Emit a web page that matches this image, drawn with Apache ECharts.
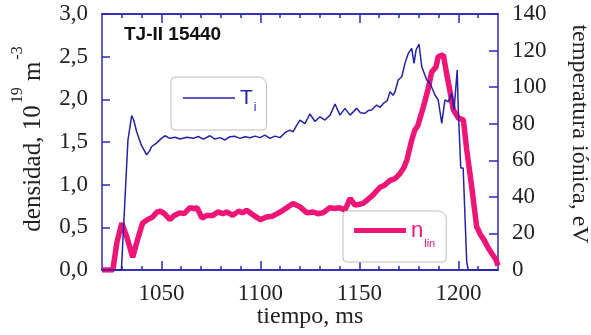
<!DOCTYPE html>
<html>
<head>
<meta charset="utf-8">
<script src="https://cdn.jsdelivr.net/npm/echarts@6/dist/echarts.min.js"></script>
<style>
  html, body { margin: 0; padding: 0; background: #fff; }
  #chart { width: 591px; height: 335px; }
</style>
</head>
<body>
<div id="chart"></div>
<script>
// ion temperature (eV), right axis
const tiTime = [1020, 1029.8, 1033.1, 1035, 1036, 1037.5, 1039, 1040, 1041.5, 1042.5, 1044, 1045, 1047.5, 1050,
  1051.8, 1054.3, 1056.9, 1059.4, 1062.8, 1066.1, 1068.6, 1071.2, 1074.5, 1077.1, 1079.6, 1082.1, 1084.6, 1087.2,
  1089.7, 1092.2, 1094.7, 1097.3, 1099.8, 1102.3, 1104.8, 1107.4, 1109.9, 1112.4, 1114.9, 1116.5, 1118, 1120,
  1122.5, 1125, 1127.6, 1130.1, 1132.6, 1135.2, 1137.7, 1140.2, 1142.7, 1145.3, 1148.6, 1150.5, 1152.8, 1154.5,
  1156.2, 1158.7, 1160.5, 1162.1, 1164, 1165.5, 1167, 1168, 1169.6, 1171.4, 1173, 1174.7, 1176.4, 1177.6, 1178.6,
  1180.1, 1181.5, 1184, 1185.7, 1188.2, 1189.8, 1191.6, 1193.2, 1194.9, 1196.6, 1197.8, 1199.4, 1199.9, 1201.2,
  1202.4, 1204.2, 1205, 1220];
const tiVal = [0, 0, 71, 84.4, 82, 75.6, 71, 68, 65, 63, 65, 67.4, 69.4, 72,
  73.4, 72.0, 72.6, 71.6, 72.6, 72.0, 73.0, 71.6, 73.4, 71.6, 72.4, 71.1, 72.9, 73.1,
  72.0, 72.9, 72.3, 73.2, 72.4, 73.8, 72.0, 73.2, 72.4, 75.1, 76.5, 75.5, 78.5, 82,
  80, 85.3, 81.2, 83.8, 82, 84.7, 90.8, 84.7, 88.4, 84.7, 88.4, 86, 85.7, 87.2,
  87.5, 90.2, 89, 91.1, 92.5, 97.5, 95.5, 97.5, 103.9, 105.7, 113, 118.5, 121.2, 113, 120.3,
  123.6, 111.2, 103.9, 102, 95.7, 93, 80.2, 93, 92, 96.6, 87.5, 109.3, 89, 55.8,
  55.8, 4.5, 0, 0];

// line density (10^19 m^-3), left axis
const nTime = [1020, 1025.5, 1027.5, 1030, 1032.5, 1035.5, 1037.5, 1040.5, 1043, 1045.5, 1047.8, 1049.5, 1051.5,
  1054.3, 1056.5, 1059.4, 1061.5, 1064.4, 1066.5, 1068, 1070.5, 1073, 1076, 1078.5, 1081, 1083, 1086, 1089, 1091,
  1093, 1096, 1098, 1100, 1103, 1106, 1108.5, 1111.4, 1114, 1116.5, 1120, 1123.5, 1126.6, 1129, 1131.6, 1135,
  1137.5, 1140, 1142.7, 1145.3, 1147.8, 1150, 1151.8, 1154, 1156.9, 1160.4, 1162.5, 1165.5, 1168, 1170.5, 1172.5,
  1174, 1176.4, 1178, 1179.5, 1182.3, 1184.8, 1186.5, 1188.7, 1189.8, 1192.4, 1194, 1195.8, 1197.4, 1200, 1202.5,
  1204.2, 1206.7, 1209.2, 1211, 1213, 1215, 1216.7, 1219, 1220];
const nVal = [0, 0, 0.32, 0.55, 0.39, 0.15, 0.32, 0.55, 0.59, 0.62, 0.68, 0.69, 0.66,
  0.59, 0.64, 0.67, 0.66, 0.73, 0.72, 0.73, 0.61, 0.64, 0.64, 0.68, 0.66, 0.68, 0.64, 0.69, 0.67,
  0.70, 0.65, 0.62, 0.59, 0.62, 0.63, 0.66, 0.70, 0.74, 0.78, 0.74, 0.67, 0.68, 0.66, 0.67, 0.73,
  0.72, 0.73, 0.70, 0.84, 0.76, 0.77, 0.78, 0.82, 0.88, 0.97, 0.99, 1.05, 1.07, 1.13, 1.20,
  1.29, 1.52, 1.64, 1.69, 1.91, 2.13, 2.32, 2.38, 2.50, 2.52, 2.31, 2.09, 1.88, 1.78, 1.76,
  1.41, 0.98, 0.51, 0.42, 0.35, 0.26, 0.20, 0.12, 0.05];

const xMajor = [1050, 1100, 1150, 1200];
const xMinor = [1030, 1040, 1060, 1070, 1080, 1090, 1110, 1120, 1130, 1140, 1160, 1170, 1180, 1190, 1210];

const frame = '#2a2ab8';
const blue = '#2222aa';
const pink = '#ee1577';
const serif = 'Liberation Serif';

var myChart = echarts.init(document.getElementById('chart'));

function xAx(pos, ticks, len, showLabel) {
  return {
    type: 'value', position: pos, min: 1020, max: 1220,
    axisLine: { show: true, onZero: false, lineStyle: { color: frame, width: 1.5 } },
    axisTick: { show: true, inside: true, length: len, customValues: ticks, lineStyle: { color: frame, width: 1.5 } },
    axisLabel: showLabel
      ? { show: true, customValues: ticks, margin: 12, color: '#222', fontFamily: serif, fontSize: 23,
          formatter: v => String(v) }
      : { show: false },
    splitLine: { show: false }
  };
}

function legendBox(name, left, top, padding, lineH, rich, fmt) {
  return {
    data: [name], left: left, top: top, padding: padding, orient: 'horizontal',
    icon: 'rect', itemWidth: 52, itemHeight: lineH, selectedMode: false,
    backgroundColor: '#fff', borderColor: '#bdbdbd', borderWidth: 1, borderRadius: [4, 8, 4, 4],
    formatter: fmt, textStyle: { rich: rich }
  };
}

myChart.setOption({
  animation: false,
  grid: { left: 102, right: 93, top: 14, bottom: 65 },
  xAxis: [
    xAx('bottom', xMajor, 9, true),
    xAx('bottom', xMinor, 4, false),
    xAx('top', xMajor, 9, false),
    xAx('top', xMinor, 4, false)
  ],
  yAxis: [
    {
      type: 'value', position: 'left', min: 0, max: 3, interval: 0.5,
      axisLine: { show: true, lineStyle: { color: frame, width: 1.5 } },
      axisTick: { show: true, inside: true, length: 8, lineStyle: { color: frame, width: 1.5 } },
      axisLabel: { margin: 14, color: '#222', fontFamily: serif, fontSize: 23,
        formatter: v => v.toFixed(1).replace('.', ',') },
      splitLine: { show: false }
    },
    {
      type: 'value', position: 'right', min: 0, max: 140, interval: 20,
      axisLine: { show: true, lineStyle: { color: frame, width: 1.5 } },
      axisTick: { show: true, inside: true, length: 9, lineStyle: { color: frame, width: 1.5 } },
      axisLabel: { margin: 14, color: '#222', fontFamily: serif, fontSize: 23 },
      splitLine: { show: false }
    }
  ],
  legend: [
    legendBox('Ti', 171, 77, [5, 10, 16, 12], 1.5, {
      a: { color: blue, fontFamily: 'Liberation Sans', fontSize: 21, lineHeight: 22 },
      b: { color: blue, fontFamily: 'Liberation Sans', fontSize: 12, lineHeight: 12, padding: [20, 0, 0, 1] }
    }, () => '{a|T}{b|i}'),
    legendBox('nlin', 343, 211, [1, 11, 13, 11], 5, {
      a: { color: pink, fontFamily: 'Liberation Sans', fontSize: 22, lineHeight: 22 },
      b: { color: pink, fontFamily: 'Liberation Sans', fontSize: 11, lineHeight: 11, padding: [26, 0, 0, 1] }
    }, () => '{a|n}{b|lin}')
  ],
  graphic: [
    { type: 'text', left: 124, top: 25, style: { text: 'TJ-II 15440', fill: '#111',
        font: 'bold 19px "Liberation Sans"' } },
    { type: 'text', x: 33, y: 139, rotation: Math.PI / 2, style: {
        text: '{a|densidad, 10}{s|19}{a| m}{s|-3}', align: 'center', verticalAlign: 'middle',
        rich: {
          a: { fill: '#222', fontFamily: serif, fontSize: 25, lineHeight: 25 },
          s: { fill: '#222', fontFamily: serif, fontSize: 16, lineHeight: 16, padding: [0, 0, 30, 2] }
        } } },
    { type: 'text', x: 579, y: 134, rotation: -Math.PI / 2, style: {
        text: 'temperatura iónica, eV', align: 'center', verticalAlign: 'middle',
        fill: '#222', font: '24px "Liberation Serif"' } },
    { type: 'text', x: 310, y: 317, style: {
        text: 'tiempo, ms', align: 'center', verticalAlign: 'middle',
        fill: '#222', font: '24px "Liberation Serif"' } }
  ],
  series: [
    {
      name: 'nlin', type: 'line', xAxisIndex: 0, yAxisIndex: 0, symbol: 'none',
      lineStyle: { color: pink, width: 5.5 }, itemStyle: { color: pink },
      data: nTime.map((t, i) => [t, nVal[i]]), z: 2
    },
    {
      name: 'Ti', type: 'line', xAxisIndex: 0, yAxisIndex: 1, symbol: 'none',
      lineStyle: { color: blue, width: 1.5 }, itemStyle: { color: blue },
      data: tiTime.map((t, i) => [t, tiVal[i]]), z: 3
    }
  ]
});
</script>
</body>
</html>
